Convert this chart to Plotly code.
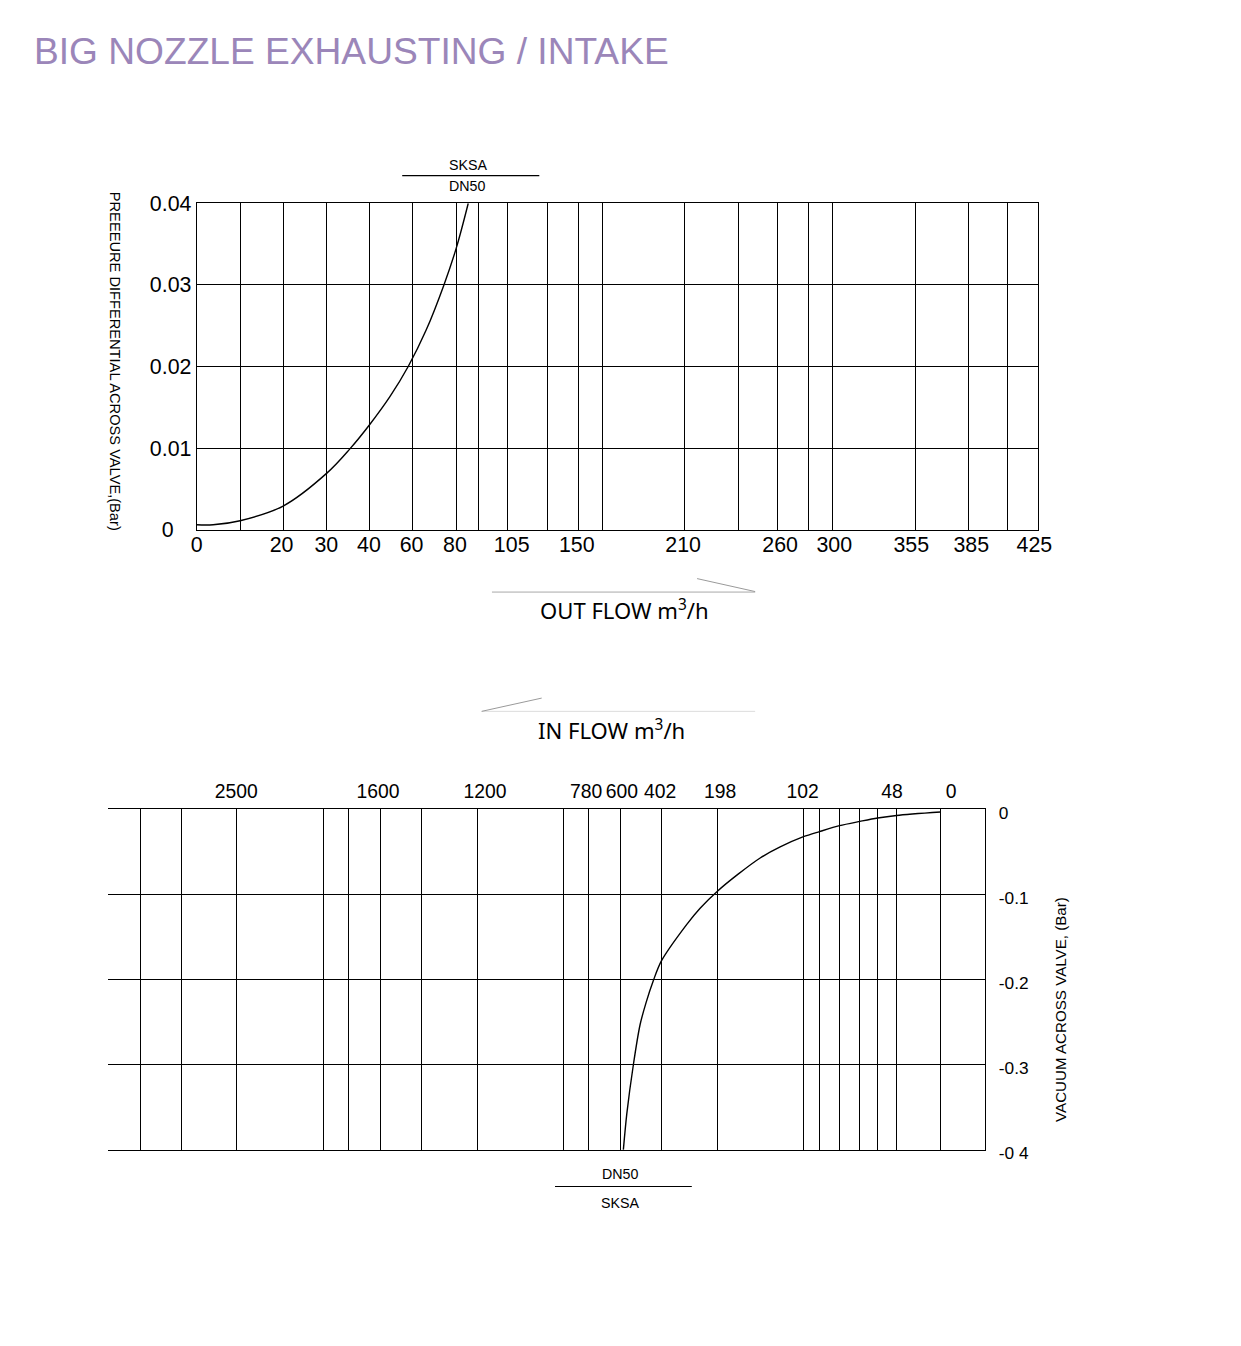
import plotly.graph_objects as go

# ---------------- data ----------------
# Top chart (exhausting / out flow). The printed flow scale is irregular, so the x axis is
# expressed in chart-position units along that printed scale (0 = left edge, 841 = right edge).
out_grid_pos = [43.3, 86.3, 129.7, 172.3, 216.0, 259.3, 281.7, 310.7, 350.3, 381.3, 405.3,
                487.3, 541.3, 580.3, 611.3, 635.3, 718.3, 771.3, 810.3]
out_tick_pos = [0, 84.7, 129.5, 172.0, 214.7, 258.0, 314.7, 379.7, 486.0, 583.0, 637.0, 714.0, 774.0, 837.0]
out_tick_text = ["0", "20", "30", "40", "60", "80", "105", "150", "210", "260", "300", "355", "385", "425"]
out_curve_pos = [0, 16.3, 43.3, 86.3, 129.7, 153.0, 172.3, 193.0, 211.3, 229.0, 247.0, 259.3, 271.3]
out_curve_dp = [0.0006, 0.0006, 0.0011, 0.0029, 0.0069, 0.0099, 0.0128, 0.0163, 0.0200,
                0.0244, 0.0300, 0.0345, 0.0400]
out_y_ticks = [0, 0.01, 0.02, 0.03, 0.04]
out_y_text = ["0\u00a0\u00a0\u00a0", "0.01", "0.02", "0.03", "0.04"]

# Bottom chart (intake / in flow), reversed printed flow scale (0 = left edge, 877 = right edge).
in_grid_pos = [32.3, 73.3, 128.3, 215.3, 240.3, 272.3, 313.3, 369.3, 455.3, 480.3, 512.3,
               553.3, 609.3, 695.3, 711.3, 731.3, 751.7, 769.3, 788.3, 832.3]
in_tick_pos = [128.5, 270.0, 377.0, 478.0, 513.7, 552.0, 612.0, 694.5, 783.7, 842.8]
in_tick_text = ["2500", "1600", "1200", "780", "600", "402", "198", "102", "48", "0"]
in_curve_pos = [832.3, 788.3, 769.3, 751.7, 731.3, 711.3, 695.3, 672.0, 652.0, 630.0, 609.3,
                592.0, 578.7, 553.3, 545.3, 538.0, 532.0, 525.3, 518.7, 515.3]
in_curve_vac = [-0.003, -0.007, -0.010, -0.014, -0.019, -0.026, -0.032, -0.044, -0.057, -0.076,
                -0.096, -0.116, -0.135, -0.178, -0.201, -0.227, -0.253, -0.300, -0.358, -0.400]
in_y_ticks = [0, -0.1, -0.2, -0.3, -0.4]
in_y_text = ["0", "-0.1", "-0.2", "-0.3", "-0 4"]

# ---------------- layout helpers ----------------
PAGE_W, PAGE_H = 1241, 1346
BODY_MARGIN = 8                       # default page margin around the plot div
W, H = PAGE_W - 2 * BODY_MARGIN, PAGE_H - 2 * BODY_MARGIN
K = 1 / 0.983                         # compensates the capture's slight downscale
X_OFF, Y_OFF = 1.5, -1.5
FONT = "Liberation Sans, Arial, sans-serif"
FLOW_FONT = "Noto Sans, Open Sans, sans-serif"


def px(x):
    return ((x + X_OFF) * K - BODY_MARGIN) / W


def py(y):
    return 1 - ((y + Y_OFF) * K - BODY_MARGIN) / H


def fs(size):
    return round(size * K, 2)


fig = go.Figure()

fig.add_trace(go.Scatter(x=out_curve_pos, y=out_curve_dp, mode="lines",
                         line=dict(color="black", width=1.4, shape="spline", smoothing=1.0),
                         xaxis="x", yaxis="y", hoverinfo="skip", showlegend=False))
fig.add_trace(go.Scatter(x=in_curve_pos, y=in_curve_vac, mode="lines",
                         line=dict(color="black", width=1.4, shape="spline", smoothing=0.8),
                         xaxis="x2", yaxis="y2", hoverinfo="skip", showlegend=False))

grid_minor_top = dict(tickmode="array", tickvals=out_grid_pos, showgrid=True,
                      gridcolor="black", gridwidth=1.2, ticks="")
grid_minor_bot = dict(tickmode="array", tickvals=in_grid_pos, showgrid=True,
                      gridcolor="black", gridwidth=1.2, ticks="")

fig.update_layout(
    width=W, height=H, autosize=False,
    margin=dict(l=0, r=0, t=0, b=0),
    paper_bgcolor="white", plot_bgcolor="white",
    font=dict(family=FONT, color="black"),
    xaxis=dict(domain=[px(197), px(1038)], range=[0, 841], anchor="y",
               tickmode="array", tickvals=out_tick_pos, ticktext=out_tick_text,
               showgrid=False, zeroline=False, ticks="", ticklabelstandoff=-4,
               showline=True, mirror=True, linecolor="black", linewidth=1.2,
               tickfont=dict(size=fs(21), family=FONT), minor=grid_minor_top, fixedrange=True),
    yaxis=dict(domain=[py(528), py(201)], range=[0, 0.04], anchor="x",
               tickmode="array", tickvals=out_y_ticks, ticktext=out_y_text,
               showgrid=True, gridcolor="black", gridwidth=1.2, zeroline=False, ticks="",
               showline=True, mirror=True, linecolor="black", linewidth=1.2,
               tickfont=dict(size=fs(21), family=FONT), fixedrange=True),
    xaxis2=dict(domain=[px(108), px(985)], range=[0, 877], anchor="y2", side="top",
                tickmode="array", tickvals=in_tick_pos, ticktext=in_tick_text,
                showgrid=False, zeroline=False, ticks="", ticklabelstandoff=3,
                showline=True, mirror=True, linecolor="black", linewidth=1.2,
                tickfont=dict(size=fs(19), family=FONT), minor=grid_minor_bot, fixedrange=True),
    yaxis2=dict(domain=[py(1149.3), py(808.3)], range=[-0.4, 0], anchor="x2", side="right",
                tickmode="array", tickvals=in_y_ticks, ticktext=in_y_text,
                showgrid=True, gridcolor="black", gridwidth=1.2, zeroline=False, ticks="",
                showline=True, mirror=False, linecolor="black", linewidth=1.2,
                ticklabelshift=3, ticklabelstandoff=9,
                tickfont=dict(size=fs(17), family=FONT), fixedrange=True),
)

annotations = [
    dict(text="BIG NOZZLE EXHAUSTING / INTAKE", x=px(32.5), y=py(48), xanchor="left", yanchor="middle",
         font=dict(size=fs(36.5), color="#9b86b9", family=FONT)),
    dict(text="PREEEURE DIFFERENTIAL ACROSS VALVE,(Bar)", x=px(115.5), y=py(359), textangle=90,
         xanchor="center", yanchor="middle", font=dict(size=fs(14.4), family=FONT)),
    dict(text="VACUUM ACROSS VALVE, (Bar)", x=px(1060.8), y=py(1009), textangle=-90,
         xanchor="center", yanchor="middle", font=dict(size=fs(14.9), family=FONT)),
    dict(text="SKSA", x=px(468), y=py(163), xanchor="center", yanchor="middle", font=dict(size=fs(14), family=FONT)),
    dict(text="DN50", x=px(467.5), y=py(183.5), xanchor="center", yanchor="middle", font=dict(size=fs(14), family=FONT)),
    dict(text="DN50", x=px(620), y=py(1173.5), xanchor="center", yanchor="middle", font=dict(size=fs(14), family=FONT)),
    dict(text="SKSA", x=px(620), y=py(1203), xanchor="center", yanchor="middle", font=dict(size=fs(14), family=FONT)),
    dict(text="OUT FLOW m<sup>3</sup>/h", x=px(624), y=py(607.5), xanchor="center", yanchor="middle",
         font=dict(size=fs(21.7), family=FLOW_FONT)),
    dict(text="IN FLOW m<sup>3</sup>/h", x=px(611), y=py(727.5), xanchor="center", yanchor="middle",
         font=dict(size=fs(21.7), family=FLOW_FONT)),
]
for a in annotations:
    a.update(xref="paper", yref="paper", showarrow=False)
fig.update_layout(annotations=annotations)


def seg(x0, y0, x1, y1, color, width=1):
    return dict(type="line", xref="paper", yref="paper", x0=px(x0), y0=py(y0), x1=px(x1), y1=py(y1),
                line=dict(color=color, width=width))


fig.update_layout(shapes=[
    seg(402.3, 173.3, 539.3, 173.3, "black", 1.2),
    seg(555, 1186, 691.7, 1186, "black", 1.2),
    seg(492, 590.5, 755, 590.5, "#a8a8a8", 1),
    seg(697, 577, 755, 590, "#9a9a9a", 1),
    seg(481.7, 710, 755, 710, "#dcdcdc", 1),
    seg(481.7, 710, 541.7, 696.7, "#9a9a9a", 1),
])

fig.write_html("out.html")
